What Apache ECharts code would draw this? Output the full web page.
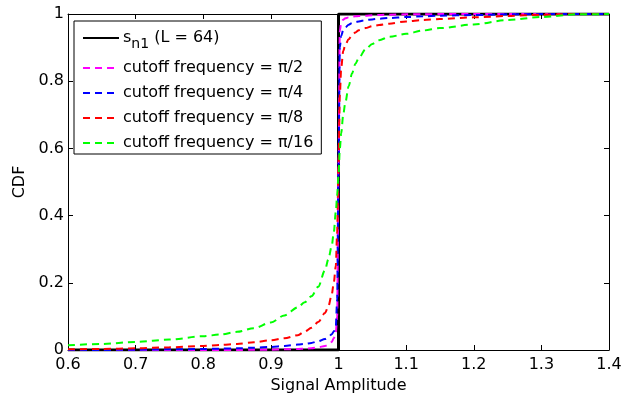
<!DOCTYPE html>
<html>
<head>
<meta charset="utf-8">
<script src="https://cdn.jsdelivr.net/npm/echarts@6/dist/echarts.min.js"></script>
<style>
  html, body { margin: 0; padding: 0; background: #fff; }
  #chart { width: 630px; height: 399px; }
</style>
</head>
<body>
<div id="chart"></div>
<script>
// Signal amplitude sample points (shared by all filtered curves)
const amplitude = [0.6, 0.65, 0.7, 0.75, 0.8, 0.825, 0.85, 0.875, 0.9, 0.92, 0.94, 0.95, 0.96, 0.97, 0.98, 0.985, 0.99, 0.993, 0.996, 0.998,
  1.0, 1.002, 1.004, 1.007, 1.01, 1.015, 1.02, 1.025, 1.03, 1.04, 1.05, 1.06, 1.075, 1.1, 1.125, 1.15, 1.2, 1.25, 1.3, 1.35, 1.4];

// CDF of the unfiltered constant-envelope signal: a unit step at amplitude 1
const stepX = [0.6, 1.0, 1.0, 1.4];
const stepY = [0, 0, 1, 1];

// CDFs after low-pass filtering with different cutoff frequencies
const cdfPi2 = [0, 0, 0, 0, 0, 0, 0, 0.001, 0.001, 0.002, 0.003, 0.004, 0.005, 0.008, 0.012, 0.016, 0.024, 0.035, 0.05, 0.1,
  0.55, 0.95, 0.975, 0.983, 0.987, 0.99, 0.992, 0.993, 0.994, 0.995, 0.996, 0.997, 0.998, 0.999, 0.999, 1, 1, 1, 1, 1, 1];
const cdfPi4 = [0, 0, 0.001, 0.002, 0.003, 0.004, 0.005, 0.007, 0.009, 0.012, 0.016, 0.018, 0.021, 0.026, 0.033, 0.038, 0.047, 0.055, 0.07, 0.15,
  0.55, 0.9, 0.935, 0.952, 0.96, 0.968, 0.973, 0.976, 0.978, 0.982, 0.984, 0.986, 0.988, 0.991, 0.993, 0.995, 0.997, 0.999, 1, 1, 1];
const cdfPi8 = [0.002, 0.003, 0.005, 0.008, 0.012, 0.015, 0.018, 0.023, 0.029, 0.035, 0.044, 0.055, 0.066, 0.083, 0.11, 0.13, 0.165, 0.2, 0.25, 0.35,
  0.55, 0.76, 0.84, 0.89, 0.908, 0.925, 0.937, 0.945, 0.952, 0.958, 0.964, 0.967, 0.971, 0.978, 0.982, 0.985, 0.99, 0.994, 0.998, 1, 1];
const cdfPi16 = [0.014, 0.018, 0.024, 0.031, 0.041, 0.046, 0.054, 0.065, 0.082, 0.103, 0.127, 0.142, 0.16, 0.188, 0.237, 0.27, 0.31, 0.35, 0.41, 0.46,
  0.52, 0.6, 0.645, 0.7, 0.735, 0.785, 0.823, 0.852, 0.869, 0.895, 0.911, 0.922, 0.932, 0.941, 0.951, 0.958, 0.969, 0.982, 0.991, 0.999, 1];

const seriesNames = ['s_n1 (L = 64)', 'cutoff frequency = \u03c0/2', 'cutoff frequency = \u03c0/4',
  'cutoff frequency = \u03c0/8', 'cutoff frequency = \u03c0/16'];
const seriesColors = ['#000000', '#ff00ff', '#0000ff', '#ff0000', '#00ff00'];

const xTickLabels = ['0.6', '0.7', '0.8', '0.9', '1', '1.1', '1.2', '1.3', '1.4'];
const yTickLabels = ['0', '0.2', '0.4', '0.6', '0.8', '1'];

const zip = (xs, ys) => xs.map((x, i) => [x, ys[i]]);
const FONT = '"DejaVu Sans", "Liberation Sans", Arial, sans-serif';
const FS = 16;

const chart = echarts.init(document.getElementById('chart'), null, { renderer: 'canvas' });

const axisCommon = {
  axisLine: { show: true, onZero: false, lineStyle: { color: '#000', width: 1 } },
  axisTick: { show: true, inside: true, length: 5, lineStyle: { color: '#000', width: 1 } },
  splitLine: { show: false }
};

function dashed(idx, data) {
  return {
    name: seriesNames[idx], type: 'line', data: data,
    symbol: 'none', smooth: 0.3, smoothMonotone: 'x',
    lineStyle: { color: seriesColors[idx], width: 2, type: [7, 5] },
    itemStyle: { color: seriesColors[idx] },
    animation: false, z: 2 + idx
  };
}

chart.setOption({
  animation: false,
  backgroundColor: '#fff',
  grid: { left: 68, right: 21, top: 14, bottom: 45, containLabel: false },
  xAxis: [
    Object.assign({
      type: 'value', min: 0.6, max: 1.4, interval: 0.1, position: 'bottom',
      name: 'Signal Amplitude', nameLocation: 'middle', nameGap: 28,
      nameTextStyle: { color: '#000', fontSize: FS, fontFamily: FONT },
      axisLabel: {
        color: '#000', fontSize: FS, fontFamily: FONT, margin: 7,
        formatter: v => xTickLabels[Math.round((v - 0.6) / 0.1)]
      }
    }, axisCommon),
    Object.assign({
      type: 'value', min: 0.6, max: 1.4, interval: 0.1, position: 'top',
      axisLabel: { show: false }
    }, axisCommon)
  ],
  yAxis: [
    Object.assign({
      type: 'value', min: 0, max: 1, interval: 0.2, position: 'left',
      name: 'CDF', nameLocation: 'middle', nameGap: 38,
      nameTextStyle: { color: '#000', fontSize: FS, fontFamily: FONT },
      axisLabel: {
        color: '#000', fontSize: FS, fontFamily: FONT, margin: 4,
        formatter: v => yTickLabels[Math.round(v / 0.2)]
      }
    }, axisCommon),
    Object.assign({
      type: 'value', min: 0, max: 1, interval: 0.2, position: 'right',
      axisLabel: { show: false }
    }, axisCommon)
  ],
  legend: {
    orient: 'vertical', left: 74, top: 21,
    backgroundColor: '#fff', borderColor: '#000', borderWidth: 1,
    padding: [9, 8, 3, 8], itemGap: 9, itemWidth: 36, itemHeight: 14,
    itemStyle: { opacity: 0 },
    data: seriesNames,
    textStyle: {
      color: '#000', fontSize: FS, fontFamily: FONT, padding: [0, 0, 0, -1],
      rich: {
        a: { fontSize: FS, fontFamily: FONT, color: '#000' },
        sub: { fontSize: 14, fontFamily: FONT, color: '#000', padding: [12, 0, 0, 0] }
      }
    },
    formatter: name => name === seriesNames[0] ? '{a|s}{sub|n1}{a| (L = 64)}' : name
  },
  series: [
    {
      name: seriesNames[0], type: 'line', data: zip(stepX, stepY),
      symbol: 'none', lineStyle: { color: seriesColors[0], width: 3, type: 'solid' },
      itemStyle: { color: seriesColors[0] }, z: 1
    },
    dashed(1, zip(amplitude, cdfPi2)),
    dashed(2, zip(amplitude, cdfPi4)),
    dashed(3, zip(amplitude, cdfPi8)),
    dashed(4, zip(amplitude, cdfPi16))
  ]
});
</script>
</body>
</html>
